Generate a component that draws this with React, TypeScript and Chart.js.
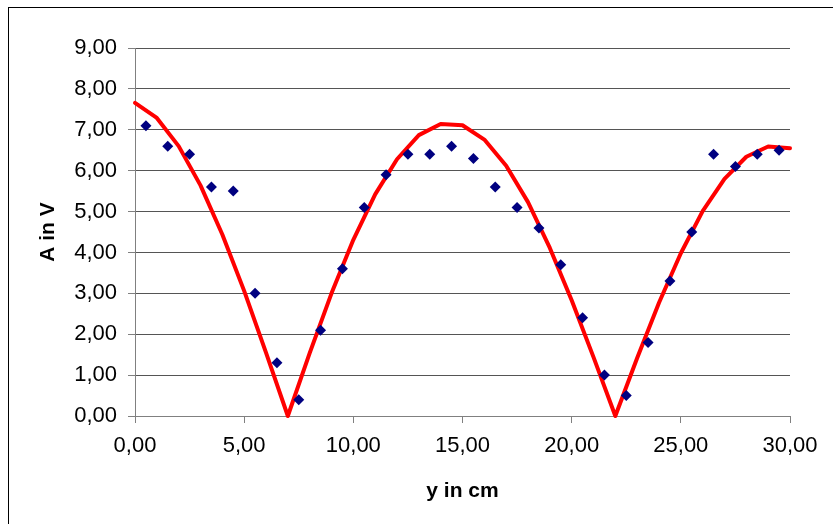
import React, { useEffect, useRef } from "react";
import { Chart, registerables } from "chart.js";

Chart.register(...registerables);

// Measured amplitude (diamonds)
const measX = [0.5, 1.5, 2.5, 3.5, 4.5, 5.5, 6.5, 7.5, 8.5, 9.5, 10.5, 11.5, 12.5, 13.5, 14.5, 15.5, 16.5, 17.5, 18.5, 19.5, 20.5, 21.5, 22.5, 23.5, 24.5, 25.5, 26.5, 27.5, 28.5, 29.5];
const measA = [7.1, 6.6, 6.4, 5.6, 5.5, 3.0, 1.3, 0.4, 2.1, 3.6, 5.1, 5.9, 6.4, 6.4, 6.6, 6.3, 5.6, 5.1, 4.6, 3.7, 2.4, 1.0, 0.5, 1.8, 3.3, 4.5, 6.4, 6.1, 6.4, 6.5];

// Theoretical curve (red line)
const theoX = [0, 1, 2, 3, 4, 5, 6, 7, 8, 9, 10, 11, 12, 13, 14, 15, 16, 17, 18, 19, 20, 21, 22, 23, 24, 25, 26, 27, 28, 29, 30];
const theoA = [7.66, 7.29, 6.6, 5.64, 4.44, 3.06, 1.55, 0, 1.54, 3.0, 4.31, 5.42, 6.28, 6.87, 7.14, 7.11, 6.76, 6.12, 5.23, 4.11, 2.83, 1.44, 0, 1.42, 2.77, 3.98, 5.01, 5.8, 6.34, 6.59, 6.55];

// Tick labels
const xTickValues = [0, 5, 10, 15, 20, 25, 30];
const xTickLabels = ["0,00", "5,00", "10,00", "15,00", "20,00", "25,00", "30,00"];
const yTickValues = [0, 1, 2, 3, 4, 5, 6, 7, 8, 9];
const yTickLabels = ["0,00", "1,00", "2,00", "3,00", "4,00", "5,00", "6,00", "7,00", "8,00", "9,00"];

const xTitle = "y in cm";
const yTitle = "A in V";

const FONT = "'Liberation Sans', Arial, sans-serif";

export default function App() {
  const ref = useRef<HTMLCanvasElement | null>(null);

  useEffect(() => {
    if (!ref.current) return;
    const chart = new Chart(ref.current, {
      type: "scatter",
      data: {
        datasets: [
          {
            label: "Messung",
            data: measX.map((x, i) => ({ x, y: measA[i] })),
            pointStyle: "rectRot",
            pointRadius: 5.5,
            pointBackgroundColor: "#000080",
            pointBorderColor: "#000080",
            pointBorderWidth: 0,
            showLine: false,
          },
          {
            label: "Theorie",
            data: theoX.map((x, i) => ({ x, y: theoA[i] })),
            showLine: true,
            borderColor: "#ff0000",
            borderWidth: 4,
            pointRadius: 0,
            tension: 0,
            borderJoinStyle: "round",
            borderCapStyle: "round",
            clip: 4,
          },
        ],
      },
      options: {
        responsive: false,
        animation: false,
        layout: { padding: { top: 40, right: 43, left: 0, bottom: 0 } },
        plugins: {
          legend: { display: false },
          tooltip: { enabled: false },
        },
        scales: {
          x: {
            type: "linear",
            min: 0,
            max: 30,
            afterBuildTicks: (scale: any) => {
              scale.ticks = xTickValues.map((v) => ({ value: v }));
            },
            afterFit: (scale: any) => {
              scale.height = 108;
            },
            ticks: {
              callback: (v: any) => {
                const i = xTickValues.indexOf(Number(v));
                return i >= 0 ? xTickLabels[i] : "";
              },
              color: "#000",
              font: { family: FONT, size: 22 },
              padding: 10,
              maxRotation: 0,
              autoSkip: false,
            },
            grid: {
              drawOnChartArea: false,
              drawTicks: true,
              tickLength: 7,
              tickColor: "#808080",
            },
            border: { display: true, color: "#808080", width: 1 },
            title: {
              display: true,
              text: xTitle,
              color: "#000",
              font: { family: FONT, size: 21, weight: "bold" },
              padding: { top: 0, bottom: 20 },
            },
          },
          y: {
            type: "linear",
            min: 0,
            max: 9,
            afterBuildTicks: (scale: any) => {
              scale.ticks = yTickValues.map((v) => ({ value: v }));
            },
            afterFit: (scale: any) => {
              scale.width = 126;
            },
            ticks: {
              callback: (v: any) => {
                const i = yTickValues.indexOf(Number(v));
                return i >= 0 ? yTickLabels[i] : "";
              },
              color: "#000",
              font: { family: FONT, size: 22 },
              padding: 11,
              autoSkip: false,
            },
            grid: {
              drawOnChartArea: true,
              color: "#555555",
              lineWidth: 1,
              drawTicks: true,
              tickLength: 7,
              tickColor: "#808080",
            },
            border: { display: true, color: "#808080", width: 1 },
            title: {
              display: true,
              text: yTitle,
              color: "#000",
              font: { family: FONT, size: 21, weight: "bold" },
              padding: { top: 27, bottom: 0 },
            },
          },
        },
      },
    });
    return () => chart.destroy();
  }, []);

  return (
    <div
      style={{
        position: "absolute",
        left: 8,
        top: 7,
        width: 825,
        height: 517,
        borderTop: "1px solid #000",
        borderLeft: "1px solid #000",
        boxSizing: "border-box",
        background: "#fff",
      }}
    >
      <canvas ref={ref} width={824} height={516} style={{ display: "block" }} />
    </div>
  );
}
